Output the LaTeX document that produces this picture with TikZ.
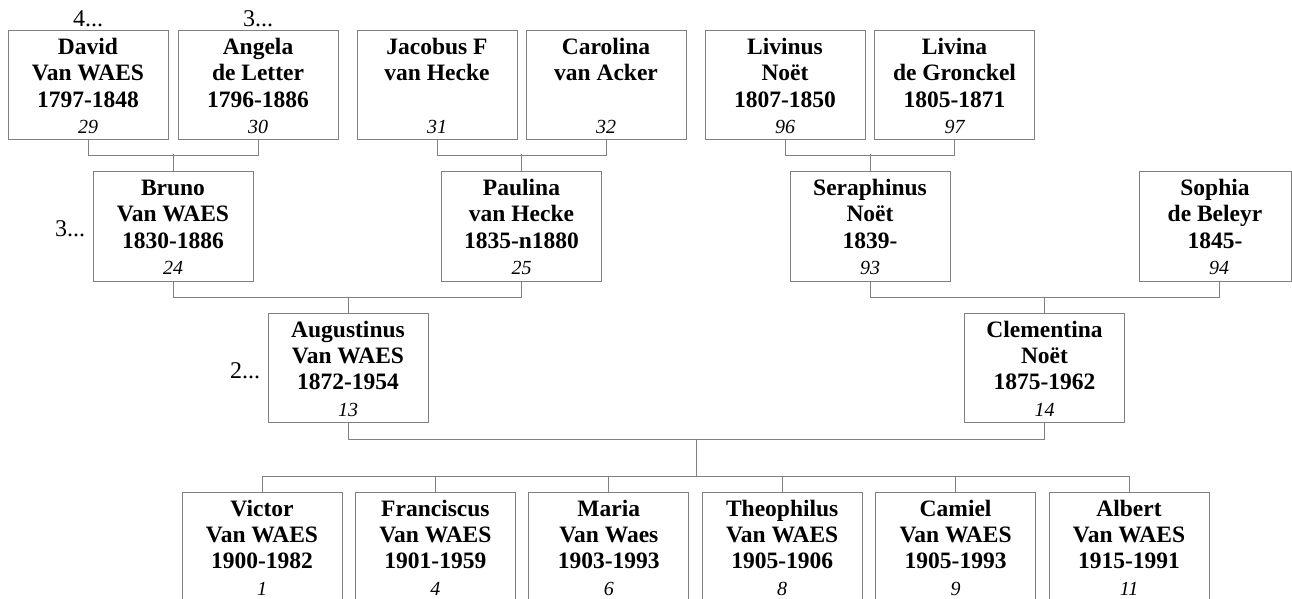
\documentclass[tikz,border=0pt]{standalone}
\usepackage{fontspec}
\setmainfont{Liberation Serif}
\usetikzlibrary{calc}

\definecolor{boxgray}{RGB}{128,128,128}

\tikzset{
  pers/.style={draw=boxgray, line width=0.5pt, inner sep=0pt, text width=80pt, align=flush center,
    text height=11.75pt, text depth=42.75pt, font=\fontsize{11.75}{13.15}\selectfont\bfseries},
  num/.style={anchor=base, yshift=3.25pt, inner sep=0pt, font=\fontsize{10}{12}\selectfont\itshape},
  gen/.style={anchor=base, inner sep=0pt, font=\fontsize{12}{14}\selectfont},
  link/.style={draw=boxgray, line width=0.5pt}
}

\begin{document}
\begin{tikzpicture}[x=0.5pt, y=-0.5pt]
\useasboundingbox (0,0) rectangle (1292,599);

\node[pers, label={[num]below:29}] (david) at (88,85.5) {David\\Van WAES\\1797-1848};

\node[pers, label={[num]below:30}] (angela) at (258,85.5) {Angela\\de Letter\\1796-1886};

\node[pers, label={[num]below:31}] (jacobus) at (437,85.5) {Jacobus F\\van Hecke};

\node[pers, label={[num]below:32}] (carolina) at (606,85.5) {Carolina\\van Acker};

\node[pers, label={[num]below:96}] (livinus) at (785,85.5) {Livinus\\Noët\\1807-1850};

\node[pers, label={[num]below:97}] (livina) at (954.5,85.5) {Livina\\de Gronckel\\1805-1871};

\node[pers, label={[num]below:24}] (bruno) at (173,226.5) {Bruno\\Van WAES\\1830-1886};

\node[pers, label={[num]below:25}] (paulina) at (521.5,226.5) {Paulina\\van Hecke\\1835-n1880};

\node[pers, label={[num]below:93}] (seraphinus) at (870,226.5) {Seraphinus\\Noët\\1839-};

\node[pers, text width=76pt, label={[num, xshift=2pt]below:94}] (sophia) at (1215,226.5) {Sophia\\de Beleyr\\1845-};

\node[pers, label={[num]below:13}] (augustinus) at (348,368) {Augustinus\\Van WAES\\1872-1954};

\node[pers, label={[num]below:14}] (clementina) at (1044.5,368) {Clementina\\Noët\\1875-1962};

\node[pers, label={[num]below:1}] (victor) at (262,547) {Victor\\Van WAES\\1900-1982};
\node[pers, label={[num]below:4}] (franciscus) at (435.4,547) {Franciscus\\Van WAES\\1901-1959};
\node[pers, label={[num]below:6}] (maria) at (608.8,547) {Maria\\Van Waes\\1903-1993};
\node[pers, label={[num]below:8}] (theophilus) at (782.2,547) {Theophilus\\Van WAES\\1905-1906};
\node[pers, label={[num]below:9}] (camiel) at (955.6,547) {Camiel\\Van WAES\\1905-1993};
\node[pers, label={[num]below:11}] (albert) at (1129,547) {Albert\\Van WAES\\1915-1991};

\node[gen] (gen4) at ([yshift=2pt]david.north) {4...};
\node[gen] (gen3a) at ([yshift=2pt]angela.north) {3...};
\node[gen, anchor=base east] (gen3b) at ([xshift=-3.5pt,yshift=-5pt]bruno.west) {3...};
\node[gen, anchor=base east] (gen2) at ([xshift=-3.5pt,yshift=-5.5pt]augustinus.west) {2...};

\draw[link] (david.south) -- ++(0,15) -| (angela.south);
\draw[link] (bruno.north) -- ++(0,-17);
\draw[link] (jacobus.south) -- ++(0,15) -| (carolina.south);
\draw[link] (paulina.north) -- ++(0,-17);
\draw[link] (livinus.south) -- ++(0,15) -| (livina.south);
\draw[link] (seraphinus.north) -- ++(0,-17);

\draw[link] (bruno.south) -- ++(0,16) -| (paulina.south);
\draw[link] (augustinus.north) -- ++(0,-16);
\draw[link] (seraphinus.south) -- ++(0,16) -| ([xshift=2pt]sophia.south);
\draw[link] (clementina.north) -- ++(0,-16);

\draw[link] (augustinus.south) -- ++(0,16) -| (clementina.south);
\coordinate (kids) at ($(augustinus.south)!.5!(clementina.south)+(0,16)$);
\draw[link] (kids) -- ++(0,37);
\draw[link] (victor.north) -- ++(0,-16) -| (albert.north);
\foreach \c in {franciscus,maria,theophilus,camiel}
  \draw[link] (\c.north) -- ++(0,-16);

\end{tikzpicture}
\end{document}
